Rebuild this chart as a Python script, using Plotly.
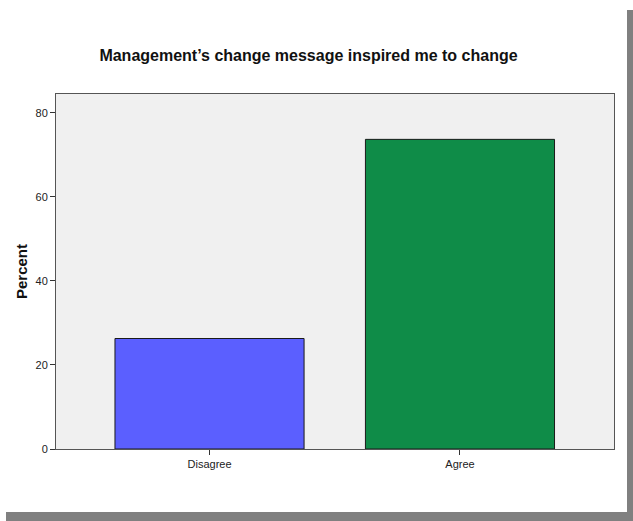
import plotly.graph_objects as go

categories = ["Disagree", "Agree"]
percent = [26.3, 73.7]
bar_colors = ["#5b5fff", "#0f8c48"]
y_ticks = [0, 20, 40, 60, 80]

W, H = 633, 521
L, R, T, B = 56, 614, 94, 449

fig = go.Figure()
fig.add_trace(go.Bar(
    x=categories, y=percent,
    marker=dict(color=bar_colors, line=dict(color="#1a1a1a", width=1)),
    width=0.755,
))

def px(x):
    return (x - L) / (R - L)

def py(y):
    return (B - y) / (B - T)

shapes = [
    dict(type="rect", xref="paper", yref="paper", x0=px(627), x1=px(634), y0=py(522), y1=py(10),
         fillcolor="#808080", line=dict(width=0), layer="below"),
    dict(type="rect", xref="paper", yref="paper", x0=px(6), x1=px(634), y0=py(522), y1=py(512),
         fillcolor="#808080", line=dict(width=0), layer="below"),
]

fig.update_layout(
    width=W, height=H,
    margin=dict(l=L, r=W - R, t=T, b=H - B, pad=0),
    paper_bgcolor="white",
    plot_bgcolor="#f0f0f0",
    showlegend=False,
    title=dict(text="<b>Management’s change message inspired me to change</b>",
               x=(96 + 521) / 2 / W, xanchor="center", y=1 - 55 / H, yanchor="middle",
               font=dict(family="Liberation Sans, Arial", size=16, color="#111111")),
    font=dict(family="Liberation Sans, Arial", size=11, color="#222222"),
    shapes=shapes,
    xaxis=dict(range=[-0.613, 1.615], showgrid=False, zeroline=False,
               showline=True, linecolor="#555555", linewidth=1, mirror=True,
               ticks="outside", ticklen=5, tickcolor="#333333", tickwidth=1,
               tickfont=dict(size=11, color="#222222")),
    yaxis=dict(range=[0, 84.5], tickvals=y_ticks, showgrid=False, zeroline=False,
               showline=True, linecolor="#555555", linewidth=1, mirror=True,
               ticks="outside", ticklen=5, tickcolor="#333333", tickwidth=1,
               tickfont=dict(size=11, color="#222222"),
               title=dict(text="<b>Percent</b>", font=dict(size=15, color="#111111"), standoff=4)),
)

fig.write_html("out.html", config={"displayModeBar": False},
               post_script="document.body.style.margin='0';document.body.style.overflow='hidden';")
